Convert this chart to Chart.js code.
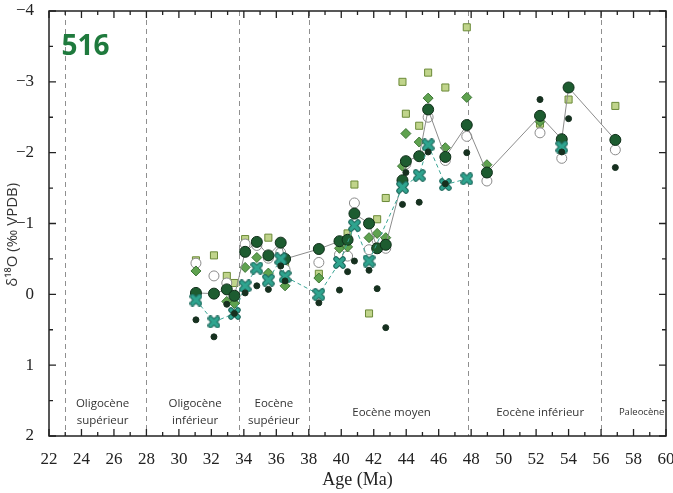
<!DOCTYPE html>
<html>
<head>
<meta charset="utf-8">
<script src="https://cdn.jsdelivr.net/npm/chart.js@4/dist/chart.umd.min.js"></script>
<style>
  body { margin: 0; background: #fff; }
</style>
</head>
<body>
<canvas id="isoChart" width="673" height="493"></canvas>
<script>
// sample ages (Ma) and d18O values, one pair of arrays per symbol
const bigAges = [31.05, 32.16, 32.95, 33.42, 34.08, 34.8, 35.51, 36.27, 36.54, 38.62, 39.89, 40.39, 40.81, 41.71, 42.21, 42.74, 43.77, 43.98, 44.8, 45.35, 46.41, 47.73, 48.97, 52.24, 53.58, 54.0, 56.88];
const bigVals = [-0.02, -0.01, -0.07, 0.02, -0.60, -0.74, -0.55, -0.73, -0.50, -0.64, -0.75, -0.77, -1.14, -1.00, -0.65, -0.70, -1.61, -1.88, -1.95, -2.61, -1.94, -2.39, -1.72, -2.52, -2.19, -2.92, -2.18];

const dotAges = [31.05, 32.16, 32.95, 33.42, 34.08, 34.8, 35.51, 36.27, 36.54, 38.62, 39.89, 40.39, 40.81, 41.71, 42.21, 42.74, 43.77, 43.98, 44.8, 45.35, 46.41, 47.73, 52.24, 53.58, 54.0, 56.88];
const dotVals = [0.36, 0.60, 0.14, 0.27, -0.02, -0.12, -0.07, -0.40, -0.19, 0.12, -0.06, -0.32, -0.47, -0.34, -0.08, 0.47, -1.27, -1.72, -1.30, -2.01, -1.56, -2.00, -2.75, -2.01, -2.48, -1.79];

const openAges = [31.05, 32.16, 32.95, 34.08, 34.8, 35.51, 36.27, 36.54, 38.62, 39.89, 40.39, 40.81, 41.71, 42.21, 42.74, 43.77, 43.98, 45.35, 46.41, 47.73, 48.97, 52.24, 53.58, 56.88];
const openVals = [-0.44, -0.26, -0.16, -0.71, -0.69, -0.51, -0.59, -0.35, -0.45, -0.56, -0.54, -1.29, -0.63, -0.76, -0.65, -1.59, -1.84, -2.50, -1.89, -2.23, -1.60, -2.28, -1.92, -2.04];

const squareAges = [31.05, 32.16, 32.95, 33.42, 34.08, 35.51, 36.54, 38.62, 40.39, 40.81, 41.71, 42.21, 42.74, 43.77, 43.98, 44.8, 45.35, 46.41, 47.73, 52.24, 54.0, 56.88];
const squareVals = [-0.48, -0.55, -0.26, -0.16, -0.78, -0.80, -0.42, -0.29, -0.86, -1.55, 0.27, -1.06, -1.36, -3.00, -2.55, -2.38, -3.13, -2.92, -3.77, -2.41, -2.75, -2.66];

const diamondAges = [31.05, 32.95, 33.42, 34.08, 34.8, 35.51, 36.54, 38.62, 39.89, 40.39, 41.71, 42.21, 42.74, 43.77, 43.98, 44.8, 45.35, 46.41, 47.73, 48.97, 52.24, 56.88];
const diamondVals = [-0.33, 0.10, 0.13, -0.38, -0.52, -0.30, -0.12, -0.23, -0.65, -0.67, -0.80, -0.86, -0.80, -1.81, -2.27, -2.15, -2.77, -2.07, -2.78, -1.83, -2.44, -2.19];

// null breaks the dashed line before the isolated point at 53.6 Ma
const crossAges = [31.05, 32.16, 33.42, 34.08, 34.8, 35.51, 36.27, 36.54, 38.62, 39.89, 40.81, 41.71, 43.77, 44.8, 45.35, 46.41, 47.73, 50.0, 53.58];
const crossVals = [0.08, 0.39, 0.27, -0.12, -0.37, -0.20, -0.50, -0.25, 0.00, -0.45, -0.97, -0.47, -1.51, -1.68, -2.11, -1.55, -1.63, null, -2.08];

const xTicks = [22, 24, 26, 28, 30, 32, 34, 36, 38, 40, 42, 44, 46, 48, 50, 52, 54, 56, 58, 60];
const yTicks = [-4, -3, -2, -1, 0, 1, 2];

// epoch boundaries and names
const boundaries = [23, 28, 33.7, 38, 47.8, 56];
const epochs = [
  { lines: ['Oligocène', 'supérieur'], age: 25.3 },
  { lines: ['Oligocène', 'inférieur'], age: 31.0 },
  { lines: ['Eocène', 'supérieur'], age: 35.85 },
  { lines: ['Eocène moyen'], age: 43.1 },
  { lines: ['Eocène inférieur'], age: 52.25 },
  { lines: ['Paleocène'], age: 58.5, small: true }
];

const serif = "'Liberation Serif', 'Times New Roman', 'DejaVu Serif', serif";

const pairs = (ages, vals) => ages.map((a, i) => ({ x: a, y: vals[i] }));

function makeCross(fill, edge) {
  const c = document.createElement('canvas');
  c.width = 13; c.height = 13;
  const g = c.getContext('2d');
  g.lineCap = 'round';
  const path = () => { g.beginPath(); g.moveTo(3, 3); g.lineTo(10, 10); g.moveTo(10, 3); g.lineTo(3, 10); g.stroke(); };
  g.strokeStyle = edge; g.lineWidth = 5.5; path();
  g.strokeStyle = fill; g.lineWidth = 3.2; path();
  return c;
}

const decor = {
  id: 'decor',
  beforeDatasetsDraw(chart) {
    const { ctx, chartArea: a, scales: { x } } = chart;
    ctx.save();
    ctx.strokeStyle = '#8f8f8f';
    ctx.lineWidth = 1;
    ctx.setLineDash([5, 4]);
    boundaries.forEach(b => {
      const px = Math.round(x.getPixelForValue(b)) + 0.5;
      ctx.beginPath(); ctx.moveTo(px, a.top); ctx.lineTo(px, a.bottom); ctx.stroke();
    });
    ctx.restore();
  },
  afterDatasetsDraw(chart) {
    const { ctx, chartArea: a, scales: { x, y } } = chart;
    ctx.save();
    ctx.strokeStyle = '#222';
    ctx.lineWidth = 1.5;
    ctx.strokeRect(a.left, a.top, a.right - a.left, a.bottom - a.top);
    ctx.lineWidth = 1.3;
    ctx.beginPath();
    for (let v = 22; v <= 60; v++) {
      const px = x.getPixelForValue(v);
      const len = v % 2 === 0 ? 7 : 4;
      ctx.moveTo(px, a.bottom); ctx.lineTo(px, a.bottom - len);
      ctx.moveTo(px, a.top); ctx.lineTo(px, a.top + len);
    }
    for (let v = -4; v <= 2; v += 0.5) {
      const py = y.getPixelForValue(v);
      const len = Number.isInteger(v) ? 7 : 4;
      ctx.moveTo(a.left, py); ctx.lineTo(a.left + len, py);
      ctx.moveTo(a.right, py); ctx.lineTo(a.right - len, py);
    }
    ctx.stroke();

    // epoch names
    ctx.fillStyle = '#333';
    ctx.textAlign = 'center';
    ctx.textBaseline = 'middle';
    epochs.forEach(e => {
      ctx.font = (e.small ? '9.5px' : '11.5px') + " 'Open Sans', sans-serif";
      const px = x.getPixelForValue(e.age);
      if (e.lines.length === 2) {
        ctx.fillText(e.lines[0], px, y.getPixelForValue(1.54));
        ctx.fillText(e.lines[1], px, y.getPixelForValue(1.78));
      } else {
        ctx.fillText(e.lines[0], px, y.getPixelForValue(1.67));
      }
    });

    // site number
    ctx.fillStyle = '#1f7a3d';
    ctx.font = "bold 28px 'Open Sans', sans-serif";
    ctx.fillText('516', x.getPixelForValue(24.25), y.getPixelForValue(-3.49));
    ctx.restore();
  }
};

const ctx = document.getElementById('isoChart').getContext('2d');
const isoChart = new Chart(ctx, {
  type: 'scatter',
  data: {
    datasets: [
      {
        label: 'small',
        data: pairs(dotAges, dotVals),
        pointStyle: 'circle',
        pointRadius: 3,
        backgroundColor: '#16301f',
        borderColor: '#16301f',
        borderWidth: 1
      },
      {
        label: 'cross',
        data: pairs(crossAges, crossVals),
        showLine: true,
        spanGaps: false,
        borderColor: '#3aa595',
        borderWidth: 1,
        borderDash: [4, 3],
        pointStyle: makeCross('#2fa48f', '#1f6b5e'),
        pointRadius: 6
      },
      {
        label: 'big',
        data: pairs(bigAges, bigVals),
        showLine: true,
        borderColor: '#8c8c8c',
        borderWidth: 1,
        pointStyle: 'circle',
        pointRadius: 5.5,
        pointBackgroundColor: '#1d5c30',
        pointBorderColor: '#0f2e19',
        pointBorderWidth: 1
      },
      {
        label: 'diamond',
        data: pairs(diamondAges, diamondVals),
        pointStyle: 'rectRot',
        pointRadius: 5,
        backgroundColor: '#5fa24f',
        borderColor: '#3b7434',
        borderWidth: 1
      },
      {
        label: 'open',
        data: pairs(openAges, openVals),
        pointStyle: 'circle',
        pointRadius: 5,
        backgroundColor: '#ffffff',
        borderColor: '#8a8a8a',
        borderWidth: 1
      },
      {
        label: 'square',
        data: pairs(squareAges, squareVals),
        pointStyle: 'rect',
        pointRadius: 5,
        backgroundColor: '#c0d48b',
        borderColor: '#6b8a38',
        borderWidth: 1
      }
    ]
  },
  options: {
    responsive: false,
    animation: false,
    layout: { padding: { top: 11, right: 7, left: 0, bottom: 0 } },
    plugins: {
      legend: { display: false },
      tooltip: { enabled: false }
    },
    scales: {
      x: {
        type: 'linear',
        min: 22,
        max: 60,
        afterBuildTicks: s => { s.ticks = xTicks.map(v => ({ value: v })); },
        afterFit: s => { s.height = 57; s.paddingLeft = 0; s.paddingRight = 0; },
        grid: { display: false },
        border: { display: false },
        ticks: {
          padding: 5,
          color: '#222',
          font: { family: serif, size: 17 }
        },
        title: {
          display: true,
          text: 'Age (Ma)',
          color: '#222',
          padding: { top: 0, bottom: 2 },
          font: { family: serif, size: 18 }
        }
      },
      y: {
        type: 'linear',
        min: -4,
        max: 2,
        reverse: true,
        afterBuildTicks: s => { s.ticks = yTicks.map(v => ({ value: v })); },
        afterFit: s => { s.width = 49; s.paddingTop = 0; s.paddingBottom = 0; },
        grid: { display: false },
        border: { display: false },
        ticks: {
          padding: 7,
          color: '#222',
          font: { family: serif, size: 17 },
          callback: v => v < 0 ? '\u2212' + Math.abs(v) : String(v)
        },
        title: {
          display: true,
          text: 'δ¹⁸O (‰ VPDB)\u2002\u2002\u2002',
          color: '#333',
          padding: { top: 4, bottom: 2 },
          font: { family: "'Open Sans', sans-serif", size: 15 }
        }
      }
    }
  },
  plugins: [decor]
});
</script>
</body>
</html>
